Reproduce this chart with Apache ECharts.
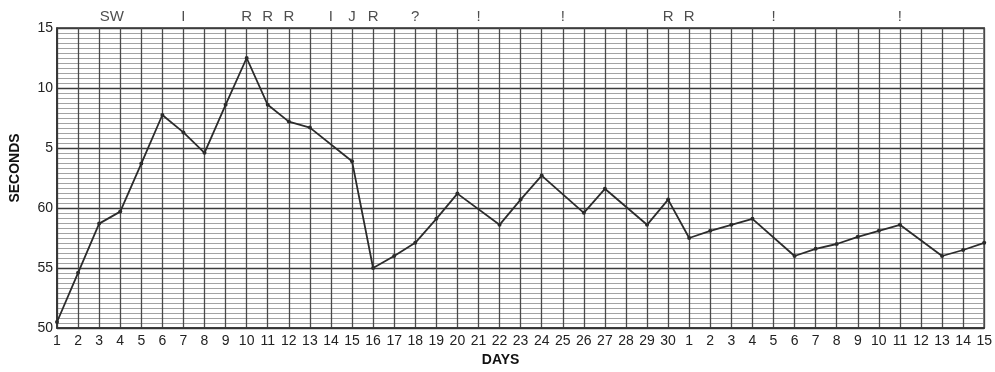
<!DOCTYPE html>
<html>
<head>
<meta charset="utf-8">
<script src="https://cdn.jsdelivr.net/npm/echarts@6/dist/echarts.min.js"></script>
<style>
html,body{margin:0;padding:0;background:#fff;}
#chart{width:995px;height:372px;}
</style>
</head>
<body>
<div id="chart"></div>
<script>
// Day labels (30 days of one month, then 15 of the next)
const dayLabels = ['1','2','3','4','5','6','7','8','9','10','11','12','13','14','15','16','17','18','19','20','21','22','23','24','25','26','27','28','29','30','1','2','3','4','5','6','7','8','9','10','11','12','13','14','15'];
// Seconds readings (null = no reading, line just passes through)
const seconds = [50.5,54.6,58.7,59.7,63.7,67.75,66.3,64.6,68.6,72.5,68.6,67.2,66.7,null,63.9,55.0,56.0,57.1,59.1,61.2,null,58.6,60.7,62.7,null,59.6,61.6,null,58.6,60.7,57.5,58.1,58.6,59.1,null,56.0,56.6,57.0,57.6,58.1,58.6,null,56.0,56.5,57.1];
// Y tick labels: value -> printed label (seconds wrap past the minute)
const yTickValues = [50,55,60,65,70,75];
const yTickLabels = ['50','55','60','5','10','15'];
// Top annotations: position (day index, 0-based) and text
const notePos = [2.6,6,9,10,11,13,14,15,17,20,24,29,30,34,40];
const noteText = ['SW','I','R','R','R','I','J','R','?','!','!','R','R','!','!'];

const chart = echarts.init(document.getElementById('chart'));
const font = 'Liberation Sans, DejaVu Sans, sans-serif';
chart.setOption({
  backgroundColor: '#ffffff',
  animation: false,
  grid: {left: 55, right: 9, top: 28, bottom: 38, show: true, borderColor: '#333', borderWidth: 1.6, backgroundColor: 'transparent'},
  xAxis: {
    type: 'value', min: 0, max: dayLabels.length - 1, interval: 1,
    name: 'DAYS', nameLocation: 'middle', nameGap: 25,
    nameTextStyle: {fontFamily: font, fontWeight: 'bold', fontSize: 14, color: '#111', padding: [0, 40, 0, 0]},
    axisLine: {show: true, lineStyle: {color: '#333', width: 1.6}},
    axisTick: {show: false},
    axisLabel: {formatter: v => dayLabels[v] || '', fontFamily: font, fontSize: 14, color: '#222', margin: 6},
    splitLine: {show: true, lineStyle: {color: '#4a4a4a', width: 1.3}}
  },
  yAxis: {
    type: 'value', min: 50, max: 75, interval: 5,
    name: 'SECONDS', nameLocation: 'middle', nameGap: 35, nameRotate: 90,
    nameTextStyle: {fontFamily: font, fontWeight: 'bold', fontSize: 14, color: '#111', padding: [0, 0, 0, 20]},
    axisLine: {show: true, lineStyle: {color: '#333', width: 1.6}},
    axisTick: {show: false},
    axisLabel: {formatter: v => yTickLabels[yTickValues.indexOf(v)] || '', fontFamily: font, fontSize: 14, color: '#222', margin: 4},
    splitLine: {show: true, lineStyle: {color: '#3c3c3c', width: 1.4}},
    minorTick: {show: false, splitNumber: 12},
    minorSplitLine: {show: true, lineStyle: {color: '#8c8c8c', width: 0.8}}
  },
  series: [
    {
      type: 'line', connectNulls: true,
      data: seconds.map((v, i) => [i, v]),
      symbol: 'circle', symbolSize: 4, showSymbol: true,
      lineStyle: {color: '#2b2b2b', width: 1.8},
      itemStyle: {color: '#2b2b2b'},
      z: 5
    },
    {
      type: 'scatter', symbolSize: 0,
      data: notePos.map((p, i) => ({value: [p, 75], label: {formatter: noteText[i]}})),
      label: {show: true, position: 'top', distance: 4, fontFamily: font, fontSize: 15, color: '#222'},
      silent: true, clip: false
    }
  ]
});
</script>
</body>
</html>
